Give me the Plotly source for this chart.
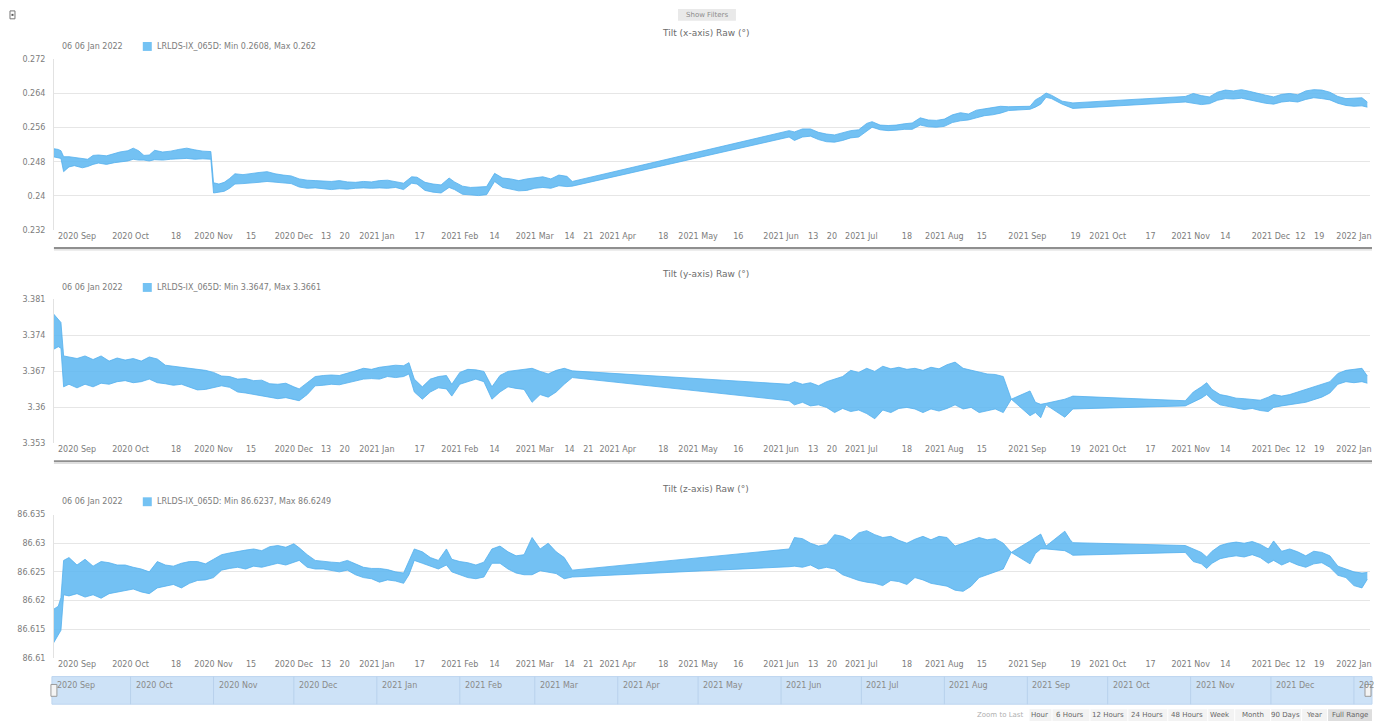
import datetime as dt
import plotly.graph_objects as go

W, H = 1374, 726
FONT = "DejaVu Sans"
EDGE = "rgb(84,176,237)"
FILL = "rgba(96,184,241,0.88)"
SWATCH = "rgb(116,194,243)"
TEXT = "#7c7c7c"


def px(x):
    return x / W


def py(y):
    return 1 - y / H


# ---------------- Tilt (x-axis) Raw: min / max envelope ----------------
tx_dates = [
    "2020-09-02", "2020-09-04", "2020-09-05", "2020-09-06", "2020-09-08", "2020-09-10", "2020-09-13", "2020-09-15", "2020-09-17", "2020-09-19",
    "2020-09-22", "2020-09-25", "2020-09-27", "2020-09-30", "2020-10-02", "2020-10-04", "2020-10-06", "2020-10-08", "2020-10-10", "2020-10-13",
    "2020-10-16", "2020-10-19", "2020-10-22", "2020-10-25", "2020-10-28", "2020-10-31", "2020-11-01", "2020-11-03", "2020-11-05", "2020-11-07",
    "2020-11-09", "2020-11-12", "2020-11-15", "2020-11-18", "2020-11-21", "2020-11-24", "2020-11-27", "2020-11-30", "2020-12-03", "2020-12-06",
    "2020-12-09", "2020-12-12", "2020-12-15", "2020-12-18", "2020-12-21", "2020-12-24", "2020-12-27", "2020-12-30", "2021-01-02", "2021-01-05",
    "2021-01-08", "2021-01-11", "2021-01-14", "2021-01-16", "2021-01-19", "2021-01-22", "2021-01-25", "2021-01-28", "2021-01-30", "2021-02-02",
    "2021-02-05", "2021-02-08", "2021-02-11", "2021-02-14", "2021-02-17", "2021-02-20", "2021-02-23", "2021-02-26", "2021-03-01", "2021-03-04",
    "2021-03-07", "2021-03-10", "2021-03-13", "2021-03-15",
    "2021-06-04", "2021-06-06", "2021-06-09", "2021-06-12", "2021-06-15", "2021-06-18", "2021-06-21", "2021-06-24", "2021-06-27", "2021-06-30",
    "2021-07-03", "2021-07-05", "2021-07-08", "2021-07-11", "2021-07-14", "2021-07-17", "2021-07-20", "2021-07-23", "2021-07-26", "2021-07-29",
    "2021-08-01", "2021-08-04", "2021-08-07", "2021-08-10", "2021-08-13", "2021-08-16", "2021-08-19", "2021-08-22", "2021-08-25",
    "2021-09-02", "2021-09-04", "2021-09-06", "2021-09-08", "2021-09-10", "2021-09-14", "2021-09-18",
    "2021-10-30", "2021-11-02", "2021-11-05", "2021-11-08", "2021-11-11", "2021-11-14", "2021-11-17", "2021-11-20", "2021-11-23", "2021-11-26",
    "2021-11-29", "2021-12-02", "2021-12-05", "2021-12-08", "2021-12-11", "2021-12-14", "2021-12-17", "2021-12-20", "2021-12-23", "2021-12-26",
    "2021-12-29", "2022-01-01", "2022-01-04", "2022-01-06",
]
tx_min = [
    0.2492, 0.2490, 0.2488, 0.2457, 0.2468, 0.2471, 0.2466, 0.2469, 0.2474, 0.2477,
    0.2474, 0.2478, 0.2480, 0.2482, 0.2486, 0.2484, 0.2484, 0.2482, 0.2485, 0.2484,
    0.2486, 0.2487, 0.2488, 0.2486, 0.2487, 0.2486, 0.2407, 0.2409, 0.2411, 0.2418,
    0.2428, 0.2429, 0.2430, 0.2432, 0.2434, 0.2432, 0.2430, 0.2429, 0.2421, 0.2418,
    0.2419, 0.2417, 0.2415, 0.2417, 0.2416, 0.2418, 0.2419, 0.2418, 0.2419, 0.2418,
    0.2420, 0.2415, 0.2430, 0.2428, 0.2413, 0.2409, 0.2407, 0.2420, 0.2415, 0.2404,
    0.2402, 0.2401, 0.2403, 0.2434, 0.2420, 0.2416, 0.2412, 0.2413, 0.2418, 0.2420,
    0.2418, 0.2424, 0.2422, 0.2423,
    0.2538, 0.2530, 0.2538, 0.2540, 0.2532, 0.2527, 0.2526, 0.2530, 0.2536, 0.2538,
    0.2552, 0.2561, 0.2555, 0.2553, 0.2554, 0.2556, 0.2556, 0.2566, 0.2562, 0.2561,
    0.2563, 0.2572, 0.2576, 0.2578, 0.2583, 0.2588, 0.2590, 0.2594, 0.2600,
    0.2603, 0.2608, 0.2615, 0.2631, 0.2628, 0.2615, 0.2605,
    0.2620, 0.2617, 0.2614, 0.2616, 0.2624, 0.2628, 0.2627, 0.2629, 0.2625, 0.2622,
    0.2617, 0.2615, 0.2620, 0.2622, 0.2620, 0.2626, 0.2630, 0.2628, 0.2625, 0.2617,
    0.2612, 0.2610, 0.2611, 0.2608,
]
tx_max = [
    0.2511, 0.2509, 0.2506, 0.2492, 0.2492, 0.2490, 0.2488, 0.2486, 0.2495, 0.2496,
    0.2494, 0.2499, 0.2503, 0.2506, 0.2512, 0.2506, 0.2495, 0.2496, 0.2507, 0.2503,
    0.2505, 0.2509, 0.2512, 0.2508, 0.2505, 0.2504, 0.2431, 0.2428, 0.2432, 0.2441,
    0.2452, 0.2450, 0.2453, 0.2455, 0.2457, 0.2452, 0.2449, 0.2447, 0.2440, 0.2437,
    0.2436, 0.2435, 0.2434, 0.2436, 0.2433, 0.2432, 0.2434, 0.2433, 0.2436, 0.2437,
    0.2434, 0.2430, 0.2445, 0.2444, 0.2432, 0.2428, 0.2426, 0.2442, 0.2433, 0.2423,
    0.2420, 0.2421, 0.2422, 0.2453, 0.2442, 0.2440, 0.2436, 0.2440, 0.2442, 0.2445,
    0.2440, 0.2449, 0.2446, 0.2434,
    0.2553, 0.2550, 0.2557, 0.2557, 0.2549, 0.2545, 0.2543, 0.2548, 0.2553, 0.2555,
    0.2570, 0.2574, 0.2566, 0.2565, 0.2566, 0.2569, 0.2571, 0.2583, 0.2578, 0.2577,
    0.2580, 0.2590, 0.2595, 0.2592, 0.2601, 0.2604, 0.2607, 0.2610, 0.2609,
    0.2610, 0.2625, 0.2632, 0.2641, 0.2636, 0.2622, 0.2618,
    0.2633, 0.2640, 0.2635, 0.2632, 0.2643, 0.2648, 0.2646, 0.2649, 0.2645, 0.2640,
    0.2636, 0.2632, 0.2638, 0.2640, 0.2637, 0.2646, 0.2649, 0.2648, 0.2643, 0.2633,
    0.2628, 0.2629, 0.2630, 0.2620,
]

# ---------------- Tilt (y-axis) and (z-axis): shared sampling dates ----------------
tyz_dates = [
    "2020-09-02", "2020-09-04", "2020-09-05", "2020-09-06", "2020-09-08", "2020-09-11", "2020-09-14", "2020-09-17", "2020-09-20", "2020-09-23",
    "2020-09-26", "2020-09-29", "2020-10-02", "2020-10-05", "2020-10-08", "2020-10-11", "2020-10-14", "2020-10-17", "2020-10-20", "2020-10-23",
    "2020-10-26", "2020-10-29", "2020-11-01", "2020-11-04", "2020-11-07", "2020-11-10", "2020-11-13", "2020-11-16", "2020-11-19", "2020-11-22",
    "2020-11-25", "2020-11-28", "2020-12-01", "2020-12-03", "2020-12-06", "2020-12-09", "2020-12-12", "2020-12-15", "2020-12-18", "2020-12-21",
    "2020-12-24", "2020-12-27", "2020-12-30", "2021-01-02", "2021-01-05", "2021-01-08", "2021-01-11", "2021-01-13", "2021-01-15", "2021-01-18",
    "2021-01-21", "2021-01-24", "2021-01-27", "2021-01-29", "2021-02-01", "2021-02-04", "2021-02-07", "2021-02-10", "2021-02-13", "2021-02-16",
    "2021-02-19", "2021-02-22", "2021-02-25", "2021-02-28", "2021-03-03", "2021-03-06", "2021-03-09", "2021-03-12", "2021-03-15",
    "2021-06-04", "2021-06-06", "2021-06-09", "2021-06-12", "2021-06-15", "2021-06-18", "2021-06-21", "2021-06-24", "2021-06-27", "2021-06-30",
    "2021-07-03", "2021-07-06", "2021-07-09", "2021-07-12", "2021-07-15", "2021-07-18", "2021-07-21", "2021-07-24", "2021-07-27", "2021-07-30",
    "2021-08-02", "2021-08-05", "2021-08-08", "2021-08-11", "2021-08-14", "2021-08-17", "2021-08-20", "2021-08-23",
    "2021-08-26", "2021-09-02", "2021-09-04", "2021-09-06", "2021-09-08", "2021-09-15", "2021-09-17", "2021-09-18",
    "2021-10-30", "2021-11-02", "2021-11-05", "2021-11-07", "2021-11-09", "2021-11-12", "2021-11-15", "2021-11-18", "2021-11-21", "2021-11-24",
    "2021-11-27", "2021-11-30", "2021-12-02", "2021-12-05", "2021-12-08", "2021-12-11", "2021-12-14", "2021-12-17", "2021-12-20", "2021-12-23",
    "2021-12-26", "2021-12-29", "2022-01-01", "2022-01-04", "2022-01-06",
]
ty_min = [
    3.3712, 3.3718, 3.3715, 3.3640, 3.3645, 3.3638, 3.3645, 3.3640, 3.3647, 3.3645,
    3.3650, 3.3652, 3.3648, 3.3650, 3.3655, 3.3648, 3.3646, 3.3643, 3.3645, 3.3640,
    3.3634, 3.3635, 3.3638, 3.3642, 3.3639, 3.3630, 3.3628, 3.3625, 3.3622, 3.3620,
    3.3617, 3.3619, 3.3616, 3.3613, 3.3625, 3.3642, 3.3643, 3.3645, 3.3644, 3.3648,
    3.3652, 3.3655, 3.3656, 3.3655, 3.3660, 3.3658, 3.3660, 3.3665, 3.3630, 3.3616,
    3.3630, 3.3638, 3.3636, 3.3622, 3.3645, 3.3650, 3.3655, 3.3650, 3.3616, 3.3630,
    3.3640, 3.3637, 3.3635, 3.3610, 3.3625, 3.3620, 3.3630, 3.3645, 3.3658,
    3.3613, 3.3605, 3.3610, 3.3603, 3.3605, 3.3600, 3.3590, 3.3598, 3.3592, 3.3595,
    3.3588, 3.3578, 3.3595, 3.3590, 3.3598, 3.3600, 3.3597, 3.3590, 3.3597, 3.3593,
    3.3598, 3.3605, 3.3597, 3.3600, 3.3590, 3.3593, 3.3597, 3.3590,
    3.3616, 3.3584, 3.3590, 3.3580, 3.3605, 3.3581, 3.3592, 3.3597,
    3.3603, 3.3610, 3.3618, 3.3625, 3.3615, 3.3605, 3.3602, 3.3598, 3.3596, 3.3598,
    3.3594, 3.3592, 3.3600, 3.3603, 3.3605, 3.3608, 3.3610, 3.3615, 3.3620, 3.3628,
    3.3645, 3.3650, 3.3648, 3.3650, 3.3647,
]
ty_max = [
    3.3783, 3.3772, 3.3765, 3.3700, 3.3698, 3.3695, 3.3700, 3.3693, 3.3700, 3.3690,
    3.3696, 3.3692, 3.3695, 3.3690, 3.3698, 3.3694, 3.3682, 3.3680, 3.3677, 3.3675,
    3.3674, 3.3672, 3.3668, 3.3661, 3.3660, 3.3655, 3.3656, 3.3652, 3.3653, 3.3646,
    3.3645, 3.3647, 3.3640, 3.3636, 3.3648, 3.3660, 3.3662, 3.3663, 3.3662, 3.3666,
    3.3671, 3.3676, 3.3674, 3.3678, 3.3680, 3.3682, 3.3681, 3.3687, 3.3655, 3.3640,
    3.3655, 3.3660, 3.3662, 3.3645, 3.3668, 3.3674, 3.3673, 3.3670, 3.3640, 3.3662,
    3.3670, 3.3672, 3.3674, 3.3676, 3.3670, 3.3665, 3.3672, 3.3676, 3.3671,
    3.3645, 3.3650, 3.3645, 3.3648, 3.3642, 3.3650, 3.3655, 3.3660, 3.3672, 3.3668,
    3.3676, 3.3670, 3.3680, 3.3675, 3.3678, 3.3674, 3.3676, 3.3672, 3.3678, 3.3675,
    3.3683, 3.3688, 3.3676, 3.3672, 3.3668, 3.3665, 3.3664, 3.3660,
    3.3616, 3.3632, 3.3610, 3.3606, 3.3608, 3.3616, 3.3620, 3.3622,
    3.3613, 3.3630, 3.3640, 3.3648, 3.3635, 3.3625, 3.3622, 3.3618, 3.3617, 3.3616,
    3.3614, 3.3620, 3.3625, 3.3622, 3.3625, 3.3630, 3.3635, 3.3640, 3.3645, 3.3650,
    3.3666, 3.3672, 3.3674, 3.3676, 3.3661,
]
tz_min = [
    86.6124, 86.6140, 86.6148, 86.6210, 86.6208, 86.6212, 86.6206, 86.6210, 86.6204, 86.6212,
    86.6215, 86.6218, 86.6220, 86.6215, 86.6212, 86.6222, 86.6225, 86.6228, 86.6222, 86.6230,
    86.6235, 86.6236, 86.6240, 86.6253, 86.6256, 86.6258, 86.6255, 86.6260, 86.6258, 86.6262,
    86.6265, 86.6262, 86.6266, 86.6270, 86.6258, 86.6255, 86.6255, 86.6253, 86.6250, 86.6253,
    86.6245, 86.6240, 86.6238, 86.6232, 86.6236, 86.6234, 86.6230, 86.6245, 86.6270, 86.6265,
    86.6260, 86.6255, 86.6262, 86.6250, 86.6245, 86.6240, 86.6238, 86.6241, 86.6265, 86.6265,
    86.6255, 86.6248, 86.6245, 86.6245, 86.6252, 86.6250, 86.6247, 86.6238, 86.6241,
    86.6259, 86.6260, 86.6258, 86.6262, 86.6255, 86.6258, 86.6255, 86.6245, 86.6240, 86.6235,
    86.6232, 86.6230, 86.6226, 86.6235, 86.6233, 86.6228, 86.6240, 86.6236, 86.6230, 86.6228,
    86.6225, 86.6218, 86.6216, 86.6225, 86.6240, 86.6245, 86.6250, 86.6255,
    86.6284, 86.6264, 86.6282, 86.6290, 86.6290, 86.6287, 86.6282, 86.6279,
    86.6284, 86.6268, 86.6264, 86.6256, 86.6265, 86.6273, 86.6276, 86.6278, 86.6276, 86.6280,
    86.6275, 86.6265, 86.6270, 86.6262, 86.6268, 86.6262, 86.6258, 86.6264, 86.6266, 86.6258,
    86.6244, 86.6240, 86.6226, 86.6222, 86.6237,
]
tz_max = [
    86.6184, 86.6190, 86.6205, 86.6270, 86.6275, 86.6262, 86.6272, 86.6260, 86.6268, 86.6266,
    86.6262, 86.6262, 86.6258, 86.6255, 86.6250, 86.6268, 86.6262, 86.6260, 86.6265, 86.6268,
    86.6268, 86.6264, 86.6272, 86.6280, 86.6283, 86.6286, 86.6288, 86.6290, 86.6287, 86.6294,
    86.6296, 86.6293, 86.6299, 86.6292, 86.6280, 86.6270, 86.6268, 86.6267, 86.6266, 86.6270,
    86.6264, 86.6258, 86.6256, 86.6256, 86.6254, 86.6250, 86.6248, 86.6270, 86.6290, 86.6285,
    86.6275, 86.6270, 86.6290, 86.6272, 86.6268, 86.6266, 86.6262, 86.6267, 86.6290, 86.6295,
    86.6285, 86.6278, 86.6280, 86.6310, 86.6290, 86.6300, 86.6285, 86.6275, 86.6253,
    86.6290, 86.6310, 86.6308, 86.6300, 86.6295, 86.6298, 86.6315, 86.6312, 86.6305, 86.6318,
    86.6322, 86.6315, 86.6310, 86.6312, 86.6305, 86.6300, 86.6307, 86.6312, 86.6306, 86.6312,
    86.6310, 86.6295, 86.6300, 86.6305, 86.6310, 86.6306, 86.6308, 86.6300,
    86.6284, 86.6304, 86.6310, 86.6316, 86.6295, 86.6321, 86.6306, 86.6301,
    86.6296, 86.6290, 86.6284, 86.6276, 86.6286, 86.6296, 86.6300, 86.6302, 86.6300, 86.6303,
    86.6298, 86.6290, 86.6304, 86.6286, 86.6290, 86.6285, 86.6278, 86.6286, 86.6284, 86.6278,
    86.6260, 86.6255, 86.6250, 86.6248, 86.6249,
]

# ---------------- axis ticks ----------------
x_tick_dates = [
    "2020-09-11", "2020-10-01", "2020-10-18", "2020-11-01", "2020-11-15", "2020-12-01", "2020-12-13", "2020-12-20",
    "2021-01-01", "2021-01-17", "2021-02-01", "2021-02-14", "2021-03-01", "2021-03-14", "2021-03-21", "2021-04-01",
    "2021-04-18", "2021-05-01", "2021-05-16", "2021-06-01", "2021-06-13", "2021-06-20", "2021-07-01", "2021-07-18",
    "2021-08-01", "2021-08-15", "2021-09-01", "2021-09-19", "2021-10-01", "2021-10-17", "2021-11-01", "2021-11-14",
    "2021-12-01", "2021-12-12", "2021-12-19", "2022-01-01",
]
x_tick_text = [
    "2020 Sep", "2020 Oct", "18", "2020 Nov", "15", "2020 Dec", "13", "20",
    "2021 Jan", "17", "2021 Feb", "14", "2021 Mar", "14", "21", "2021 Apr",
    "18", "2021 May", "16", "2021 Jun", "13", "20", "2021 Jul", "18",
    "2021 Aug", "15", "2021 Sep", "19", "2021 Oct", "17", "2021 Nov", "14",
    "2021 Dec", "12", "19", "2022 Jan",
]
tx_ticks = [0.232, 0.24, 0.248, 0.256, 0.264, 0.272]
ty_ticks = [3.353, 3.36, 3.367, 3.374, 3.381]
tz_ticks = [86.61, 86.615, 86.62, 86.625, 86.63, 86.635]

panel_titles = ["Tilt (x-axis) Raw (°)", "Tilt (y-axis) Raw (°)", "Tilt (z-axis) Raw (°)"]
series_name = "LRLDS-IX_065D"

nav_months = [
    "2020-10-01", "2020-11-01", "2020-12-01", "2021-01-01", "2021-02-01", "2021-03-01", "2021-04-01", "2021-05-01",
    "2021-06-01", "2021-07-01", "2021-08-01", "2021-09-01", "2021-10-01", "2021-11-01", "2021-12-01", "2022-01-01",
]
range_buttons = ["Hour", "6 Hours", "12 Hours", "24 Hours", "48 Hours", "Week", "Month", "90 Days", "Year", "Full Range"]

X_RANGE = ["2020-09-02 09:00", "2022-01-07 00:00"]

# geometry of the three stacked panels (pixel rows)
panels = [
    dict(dates=tx_dates, lo=tx_min, hi=tx_max, ticks=tx_ticks, top=56, bottom=229, title_y=29, legend_y=43, rule_y=247),
    dict(dates=tyz_dates, lo=ty_min, hi=ty_max, ticks=ty_ticks, top=299, bottom=445, title_y=273, legend_y=287, rule_y=463),
    dict(dates=tyz_dates, lo=tz_min, hi=tz_max, ticks=tz_ticks, top=517, bottom=662, title_y=491, legend_y=504, rule_y=None),
]

fig = go.Figure()
layout = dict(
    width=W, height=H, margin=dict(l=0, r=0, t=0, b=0),
    paper_bgcolor="white", plot_bgcolor="white", showlegend=False,
    font=dict(family=FONT, size=8, color=TEXT),
)
shapes, annotations = [], []

for i, p in enumerate(panels):
    sfx = "" if i == 0 else str(i + 1)
    xa, ya = "x" + sfx, "y" + sfx
    fig.add_trace(go.Scatter(
        x=p["dates"], y=p["lo"], xaxis=xa, yaxis=ya, mode="lines",
        line=dict(color=EDGE, width=0.8), hoverinfo="skip"))
    fig.add_trace(go.Scatter(
        x=p["dates"], y=p["hi"], xaxis=xa, yaxis=ya, mode="lines",
        line=dict(color=EDGE, width=0.8), fill="tonexty", fillcolor=FILL, hoverinfo="skip"))

    layout["xaxis" + sfx] = dict(
        domain=[px(54), px(1372)], range=X_RANGE, type="date", anchor=ya,
        tickvals=x_tick_dates, ticktext=x_tick_text, tickangle=0,
        showgrid=False, zeroline=False, showline=False, ticks="",
        tickfont=dict(family=FONT, size=8, color=TEXT),
    )
    layout["yaxis" + sfx] = dict(
        domain=[py(p["bottom"]), py(p["top"])], range=[p["ticks"][0], p["ticks"][-1]], anchor=xa,
        tickvals=p["ticks"], ticktext=[f"{t:g}" for t in p["ticks"]],
        showgrid=True, gridcolor="#e6e6e6", gridwidth=1, zeroline=False,
        showline=True, linecolor="#e2e2e2", linewidth=1, ticks="", ticklabelstandoff=6,
        tickfont=dict(family=FONT, size=8, color=TEXT),
    )

    # panel title
    annotations.append(dict(
        text=panel_titles[i], x=px(707), y=py(p["title_y"]), xref="paper", yref="paper",
        showarrow=False, xanchor="center", yanchor="middle",
        font=dict(family=FONT, size=9, color="#6c6c6c")))
    # legend row: last timestamp and latest min / max
    last = dt.date.fromisoformat(p["dates"][-1])
    annotations.append(dict(
        text=last.strftime("%d %d %b %Y"), x=px(60), y=py(p["legend_y"]), xref="paper", yref="paper",
        showarrow=False, xanchor="left", yanchor="middle", font=dict(family=FONT, size=8, color=TEXT)))
    shapes.append(dict(type="rect", xref="paper", yref="paper",
                       x0=px(143), x1=px(152), y0=py(p["legend_y"] + 4.5), y1=py(p["legend_y"] - 4.5),
                       fillcolor=SWATCH, line=dict(width=0)))
    annotations.append(dict(
        text=f"{series_name}: Min {p['lo'][-1]:g}, Max {p['hi'][-1]:g}",
        x=px(155), y=py(p["legend_y"]), xref="paper", yref="paper",
        showarrow=False, xanchor="left", yanchor="middle", font=dict(family=FONT, size=8, color=TEXT)))
    # scrollbar rule under the panel
    if p["rule_y"] is not None:
        shapes.append(dict(type="line", xref="paper", yref="paper", x0=px(54), x1=px(1374),
                           y0=py(p["rule_y"]), y1=py(p["rule_y"]), line=dict(color="#8f8f8f", width=2)))
        shapes.append(dict(type="line", xref="paper", yref="paper", x0=px(54), x1=px(1374),
                           y0=py(p["rule_y"] + 2), y1=py(p["rule_y"] + 2), line=dict(color="#d4d4d4", width=1)))

# navigator strip
NAV_TOP, NAV_BOT = 681, 709
shapes.append(dict(type="rect", xref="paper", yref="paper", x0=px(52), x1=px(1374),
                   y0=py(NAV_BOT), y1=py(NAV_TOP), fillcolor="rgb(205,226,247)",
                   line=dict(color="rgb(190,214,240)", width=1)))
annotations.append(dict(text="2020 Sep", x=px(55), y=py(690), xref="paper", yref="paper",
                        showarrow=False, xanchor="left", yanchor="middle",
                        font=dict(family=FONT, size=8, color="#8a8a8a")))
for m in nav_months:
    shapes.append(dict(type="line", xref="x3", yref="paper", x0=m, x1=m,
                       y0=py(NAV_BOT), y1=py(NAV_TOP), line=dict(color="rgb(184,209,236)", width=1)))
    d = dt.date.fromisoformat(m)
    annotations.append(dict(text=d.strftime("%Y %b"), x=m, y=py(690), xref="x3", yref="paper",
                            xshift=3, showarrow=False, xanchor="left", yanchor="middle",
                            font=dict(family=FONT, size=8, color="#8a8a8a")))
# navigator grips
for gx in (54, 1370):
    shapes.append(dict(type="rect", xref="paper", yref="paper", x0=px(gx - 3), x1=px(gx + 3),
                       y0=py(701), y1=py(689), fillcolor="#f4f4f4", line=dict(color="#9a9a9a", width=1)))

# range selector buttons
btn_centers = [1041, 1072, 1110, 1149, 1189, 1222, 1255, 1287, 1316, 1352]
btn_edges = [1030, 1053, 1091, 1129, 1169, 1209, 1236, 1272, 1303, 1329, 1374]
annotations.append(dict(text="Zoom to Last", x=px(1001), y=py(720), xref="paper", yref="paper",
                        showarrow=False, xanchor="center", yanchor="middle",
                        font=dict(family=FONT, size=7, color="#b0b0b0")))
for k, lab in enumerate(range_buttons):
    shapes.append(dict(type="rect", xref="paper", yref="paper",
                       x0=px(btn_edges[k] + 1), x1=px(btn_edges[k + 1]), y0=py(726), y1=py(714),
                       fillcolor="#dedede" if lab == "Full Range" else "#f3f3f3", line=dict(width=0)))
    annotations.append(dict(text=lab, x=px(btn_centers[k]), y=py(720), xref="paper", yref="paper",
                            showarrow=False, xanchor="center", yanchor="middle",
                            font=dict(family=FONT, size=7, color="#666666")))

# "Show Filters" toggle and page icon
shapes.append(dict(type="rect", xref="paper", yref="paper", x0=px(679), x1=px(737),
                   y0=py(17), y1=py(5), fillcolor="#e9e9e9", line=dict(width=0)))
annotations.append(dict(text="Show Filters", x=px(708), y=py(11), xref="paper", yref="paper",
                        showarrow=False, xanchor="center", yanchor="middle",
                        font=dict(family=FONT, size=7, color="#8c8c8c")))
shapes.append(dict(type="rect", xref="paper", yref="paper", x0=px(10), x1=px(15),
                   y0=py(15), y1=py(7), fillcolor="white", line=dict(color="#777777", width=1)))
shapes.append(dict(type="rect", xref="paper", yref="paper", x0=px(11.5), x1=px(13.5),
                   y0=py(12), y1=py(10), fillcolor="#555555", line=dict(width=0)))

layout["shapes"] = shapes
layout["annotations"] = annotations
fig.update_layout(**layout)
fig.write_html("out.html")
